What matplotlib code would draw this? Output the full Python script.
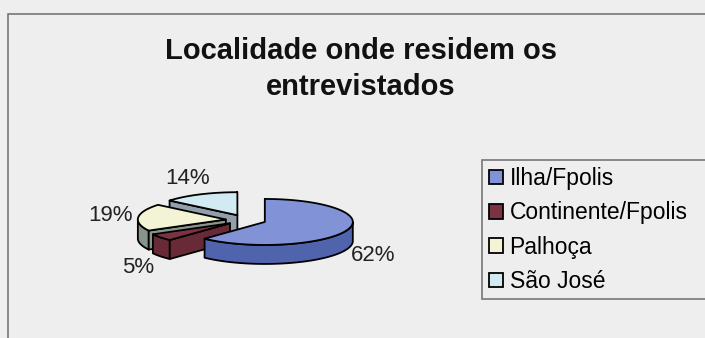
import numpy as np
import matplotlib.pyplot as plt
from matplotlib.patches import Polygon, Rectangle

plt.rcParams['font.family'] = ['Liberation Sans', 'DejaVu Sans']

title = 'Localidade onde residem os\nentrevistados'
labels = ['Ilha/Fpolis', 'Continente/Fpolis', 'Palhoça', 'São José']
values = [62, 5, 19, 14]
top_colors = ['#8292d6', '#7b3344', '#f3f3d6', '#d2eaf2']
side_colors = ['#4f64ad', '#682a36', '#86948c', '#929eaa']

BG = '#eeeeee'

# pie geometry in pixel units (y grows downward)
cx, cy = 246, 220
ra, rb = 88, 23
depth = 19
explode = 0.23


def rim(theta, vx, vy, drop=0.0):
    t = np.radians(theta)
    return np.column_stack([vx + ra * np.cos(t), vy - rb * np.sin(t) + drop])


def draw_slice(ax, t0, t1, top, side):
    mid = np.radians((t0 + t1) / 2)
    vx = cx + explode * ra * np.cos(mid)
    vy = cy - explode * rb * np.sin(mid)
    kw = dict(edgecolor='black', linewidth=1.3, joinstyle='round')

    # outer wall, only the front half faces the viewer
    th = np.linspace(t0, t1, 200)
    th = th[np.sin(np.radians(th)) < 0]
    if len(th) > 1:
        upper = rim(th, vx, vy)
        lower = rim(th[::-1], vx, vy, depth)
        ax.add_patch(Polygon(np.vstack([upper, lower]), facecolor=side, **kw))

    # cut faces
    for t, visible in ((t0, np.cos(np.radians(t0)) > -0.01),
                       (t1, np.cos(np.radians(t1)) < 0.01)):
        if visible:
            p = rim([t], vx, vy)[0]
            quad = [(vx, vy), p, (p[0], p[1] + depth), (vx, vy + depth)]
            ax.add_patch(Polygon(quad, facecolor=side, **kw))

    face = np.vstack([[vx, vy], rim(np.linspace(t0, t1, 200), vx, vy)])
    ax.add_patch(Polygon(face, facecolor=top, **kw))


fig = plt.figure(figsize=(7.05, 3.38), dpi=100, facecolor=BG)
ax = fig.add_axes([0, 0, 1, 1])
ax.set_xlim(0, 705)
ax.set_ylim(338, 0)
ax.axis('off')

# chart area border and legend box (both run off the right edge)
ax.add_patch(Rectangle((8, 14), 720, 360, facecolor=BG, edgecolor='#777777', linewidth=1.2))
ax.add_patch(Rectangle((482, 160), 240, 139, facecolor=BG, edgecolor='#777777', linewidth=1.2))

ax.text(361, 69, title, ha='center', va='center', fontsize=21, fontweight='bold',
        linespacing=1.38, color='#111111')

# slices run clockwise from 12 o'clock
fracs = np.array(values) / sum(values)
ends = 90 - 360 * np.cumsum(fracs)
starts = np.concatenate([[90], ends[:-1]])
slices = list(zip(ends, starts, top_colors, side_colors, values))
for i in (3, 2, 1, 0):
    t0, t1, top, side, v = slices[i]
    draw_slice(ax, t0, t1, top, side)

for t0, t1, top, side, v in slices:
    m = np.radians((t0 + t1) / 2)
    lx = cx + 1.55 * ra * np.cos(m)
    ly = cy - 2.0 * rb * np.sin(m) + (depth if np.sin(m) < 0 else 0)
    ax.text(lx, ly, f'{v}%', ha='center', va='center', fontsize=16, color='#222222')

handles = [Rectangle((0, 0), 1, 1, facecolor=c, edgecolor='black', linewidth=1.3)
           for c in top_colors]
leg = fig.legend(handles, labels, loc='upper left', bbox_to_anchor=(482 / 705, 1 - 160 / 338),
                 fontsize=16.5, frameon=False, handlelength=0.6,
                 handleheight=0.6, handletextpad=0.3, labelspacing=0.5,
                 borderpad=0.3, borderaxespad=0)

fig.savefig('out.png', dpi=100, facecolor=BG)
